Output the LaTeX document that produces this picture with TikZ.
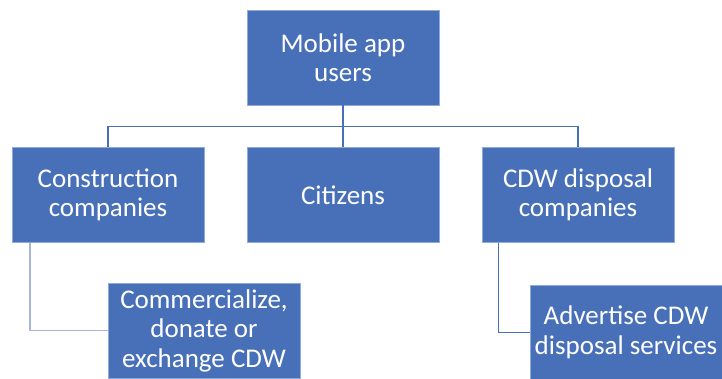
\documentclass[tikz,border=0pt]{standalone}
\usepackage{fontspec}
\setmainfont{Carlito}
\usepackage{xcolor}
\usepackage{tikz}

\definecolor{appblue}{HTML}{4870B8}
\definecolor{edgeblue}{HTML}{8FAADC}
\definecolor{paleline}{HTML}{A9B5D9}

\begin{document}
\begin{tikzpicture}[
    userbox/.style={draw=edgeblue, line width=0.6pt, rectangle, fill=appblue, text=white, minimum width=192pt, minimum height=95pt, inner sep=0pt, align=center, font=\fontsize{27pt}{29.5pt}\selectfont},
    link/.style={appblue, line width=1.3pt},
    node distance=137.5pt]
            \useasboundingbox (0,0) rectangle (722pt,-378pt);
            \clip (0,0) rectangle (722pt,-378pt);
            \node[userbox] (users) at (343pt,-57.5pt) {Mobile app\\users};
            \node[userbox, below of=users] (citizens) {Citizens};
            \node[userbox, left of=citizens, xshift=-97.5pt] (construction) {Construction\\companies};
            \node[userbox, right of=citizens, xshift=97.5pt] (cdw) {CDW disposal\\companies};
            \node[userbox, below of=construction, xshift=96pt, yshift=2pt] (commercial) {Commercialize,\\donate or\\exchange CDW};
            \node[userbox, below of=cdw, xshift=48pt] (advertise) {Advertise CDW\\disposal services};
            \path (users.south) -- (citizens.north) coordinate[midway] (bar);
            \draw[link] (users.south) -- (citizens.north);
            \draw[link] (construction.north) |- (bar) -| (cdw.north);
            \draw[link, paleline, line width=1.6pt] ([xshift=18pt]construction.south west) |- (commercial.west);
            \draw[link] ([xshift=17pt]cdw.south west) |- (advertise.west);
\end{tikzpicture}
\end{document}
